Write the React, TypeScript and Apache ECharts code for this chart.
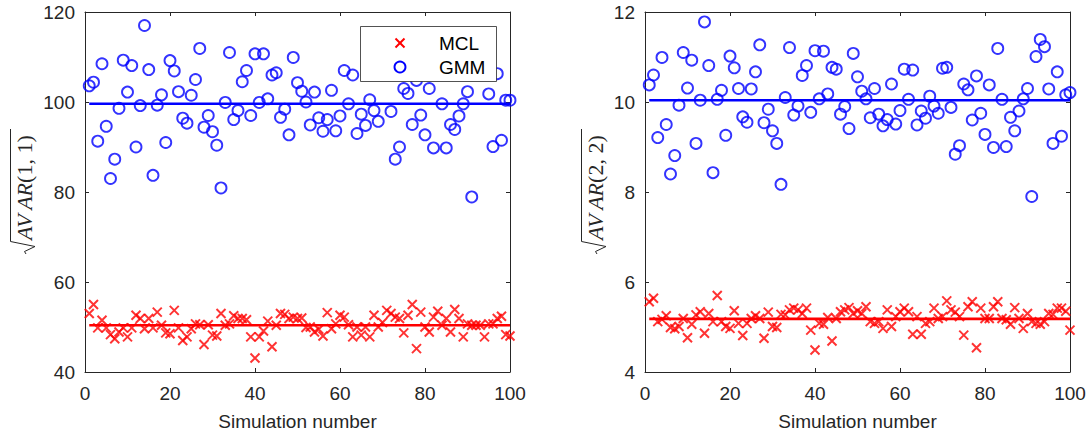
import { useEffect, useRef } from "react";
import * as echarts from "echarts";

// sqrt(AVAR(1,1)) per simulation
const mcl11 = [
  53.0, 55.0, 49.8, 51.5, 49.8, 48.3, 47.4, 48.9, 49.8, 47.8,
  49.8, 52.6, 51.9, 49.6, 51.9, 49.8, 53.3, 50.4, 48.7, 48.5,
  53.7, 49.8, 47.0, 47.8, 49.6, 50.7, 50.5, 46.1, 50.5, 48.2,
  48.0, 53.0, 50.4, 50.7, 52.5, 51.9, 51.9, 51.6, 47.8, 43.1,
  47.8, 49.1, 51.3, 45.6, 50.4, 53.0, 52.8, 51.9, 52.2, 51.9,
  52.0, 49.9, 50.0, 48.9, 49.5, 48.0, 53.2, 49.6, 50.7, 52.6,
  52.2, 50.5, 47.8, 50.0, 48.2, 50.0, 47.8, 52.6, 50.0, 51.0,
  53.7, 53.0, 52.2, 51.9, 48.7, 52.6, 55.0, 45.2, 53.3, 50.0,
  48.9, 52.2, 53.5, 50.4, 51.9, 48.9, 53.9, 51.9, 47.8, 50.7,
  50.4, 50.4, 50.4, 47.8, 50.7, 50.7, 51.9, 52.4, 48.3, 48.0,
];
const gmm11 = [
  103.6, 104.4, 91.3, 108.5, 94.6, 83.0, 87.3, 98.6, 109.3, 102.2,
  108.1, 90.0, 99.2, 117.0, 107.2, 83.7, 99.3, 101.6, 91.0, 109.2,
  106.9, 102.3, 96.4, 95.3, 101.5, 105.0, 111.9, 94.4, 97.0, 93.4,
  90.4, 80.9, 99.9, 111.0, 96.1, 98.1, 104.5, 107.0, 97.0, 110.7,
  99.9, 110.7, 100.7, 106.0, 106.5, 96.6, 98.4, 92.7, 109.9, 104.3,
  102.4, 100.0, 94.9, 102.2, 96.5, 93.5, 96.1, 102.6, 93.6, 96.9,
  107.0, 99.6, 106.0, 93.0, 97.3, 94.8, 100.5, 98.1, 95.7, 107.5,
  107.7, 97.9, 87.3, 90.0, 103.0, 101.9, 95.0, 104.8, 97.1, 92.7,
  103.0, 89.8, 111.9, 99.6, 89.8, 95.0, 93.9, 96.9, 99.6, 102.3,
  78.9, 110.1, 113.9, 112.3, 101.8, 90.1, 106.3, 91.5, 100.4, 100.4,
];
// sqrt(AVAR(2,2)) per simulation
const mcl22 = [
  5.56, 5.64, 5.12, 5.17, 5.25, 4.99, 4.96, 5.01, 5.19, 4.76,
  5.06, 5.27, 5.34, 4.86, 5.30, 5.12, 5.70, 5.12, 5.01, 4.97,
  5.36, 5.08, 4.81, 5.08, 5.19, 5.25, 5.19, 4.75, 5.33, 5.01,
  4.99, 5.28, 5.27, 5.38, 5.42, 5.38, 5.30, 5.42, 4.93, 4.49,
  5.08, 5.06, 5.21, 4.69, 5.19, 5.34, 5.38, 5.43, 5.30, 5.36,
  5.30, 5.45, 5.12, 5.08, 5.12, 4.97, 5.38, 5.01, 5.23, 5.34,
  5.42, 5.34, 4.84, 5.23, 4.84, 5.08, 5.12, 5.42, 5.19, 5.23,
  5.58, 5.38, 5.33, 5.23, 4.82, 5.45, 5.56, 4.54, 5.42, 5.19,
  5.19, 5.45, 5.56, 5.19, 5.16, 5.06, 5.43, 5.19, 4.97, 5.30,
  5.12, 5.08, 5.06, 5.12, 5.30, 5.28, 5.42, 5.42, 5.35, 4.93,
];
const gmm22 = [
  10.38, 10.60, 9.21, 10.99, 9.50, 8.40, 8.81, 9.93, 11.10, 10.31,
  10.93, 9.08, 10.04, 11.78, 10.81, 8.43, 10.06, 10.26, 9.26, 11.02,
  10.76, 10.30, 9.67, 9.55, 10.29, 10.67, 11.27, 9.54, 9.84, 9.36,
  9.08, 8.17, 10.10, 11.21, 9.71, 9.91, 10.59, 10.81, 9.77, 11.14,
  10.07, 11.13, 10.18, 10.77, 10.73, 9.73, 9.90, 9.41, 11.08, 10.56,
  10.24, 10.07, 9.65, 10.30, 9.73, 9.47, 9.61, 10.40, 9.51, 9.81,
  10.73, 10.06, 10.71, 9.49, 9.80, 9.64, 10.13, 9.91, 9.75, 10.75,
  10.77, 9.88, 8.84, 9.03, 10.40, 10.27, 9.60, 10.58, 9.75, 9.28,
  10.38, 8.99, 11.19, 10.06, 9.01, 9.66, 9.36, 9.80, 10.07, 10.30,
  7.90, 11.01, 11.39, 11.23, 10.29, 9.08, 10.67, 9.24, 10.16, 10.21,
];
const mclMean11 = 50.4;
const gmmMean11 = 99.6;
const mclMean22 = 5.18;
const gmmMean22 = 10.04;

const xTicks = { min: 0, max: 100, interval: 20 };
const yTicks11 = { min: 40, max: 120, interval: 20 };
const yTicks22 = { min: 4, max: 12, interval: 2 };
const xName = "Simulation number";
const legendNames = ["MCL", "GMM"];

const AX = "#262626";
const RED = "#ff0000";
const BLUE = "#0000ff";
const FONT = "Liberation Sans";
const CROSS = "path://M0,0L10,10M10,0L0,10";

function pairs(vals: number[]) {
  return vals.map((v, i) => [i + 1, v]);
}

export default function App() {
  const ref = useRef<HTMLDivElement>(null);
  useEffect(() => {
    if (!ref.current) return;
    const chart = echarts.init(ref.current, null, { renderer: "svg" });
    const grids = [
      { left: 85, top: 12, width: 425, height: 360 },
      { left: 645, top: 12, width: 425, height: 360 },
    ];
    const tick = { show: true, inside: true, length: 4, lineStyle: { color: AX, width: 1 } };
    const line = { show: true, onZero: false, lineStyle: { color: AX, width: 1 } };
    const xAxes: any[] = [];
    const yAxes: any[] = [];
    [0, 1].forEach((g) => {
      xAxes.push({
        type: "value", gridIndex: g, position: "bottom", ...xTicks,
        axisLine: line, axisTick: tick, splitLine: { show: false },
        axisLabel: { color: AX, fontSize: 19, fontFamily: FONT, margin: 12 },
        name: xName, nameLocation: "middle", nameGap: 40,
        nameTextStyle: { color: AX, fontSize: 19, fontFamily: FONT },
      });
      xAxes.push({
        type: "value", gridIndex: g, position: "top", ...xTicks,
        axisLine: line, axisTick: tick, splitLine: { show: false },
        axisLabel: { show: false },
      });
      const yt = g === 0 ? yTicks11 : yTicks22;
      yAxes.push({
        type: "value", gridIndex: g, position: "left", ...yt,
        axisLine: line, axisTick: tick, splitLine: { show: false },
        axisLabel: { color: AX, fontSize: 19, fontFamily: FONT, margin: 10 },
      });
      yAxes.push({
        type: "value", gridIndex: g, position: "right", ...yt,
        axisLine: line, axisTick: tick, splitLine: { show: false },
        axisLabel: { show: false },
      });
    });

    const mkSeries = (g: number, mcl: number[], gmm: number[], mm: number, gm: number) => [
      {
        name: "MCL", type: "scatter", xAxisIndex: g * 2, yAxisIndex: g * 2,
        data: pairs(mcl), symbol: CROSS, symbolSize: 9,
        itemStyle: { color: RED, borderColor: RED, borderWidth: 2 },
        z: 2,
      },
      {
        name: "GMM", type: "scatter", xAxisIndex: g * 2, yAxisIndex: g * 2,
        data: pairs(gmm), symbol: "circle", symbolSize: 11,
        itemStyle: { color: "rgba(0,0,0,0)", borderColor: BLUE, borderWidth: 1.9 },
        z: 2,
      },
      {
        type: "line", xAxisIndex: g * 2, yAxisIndex: g * 2,
        data: [[1, mm], [100, mm]], symbol: "none",
        lineStyle: { color: RED, width: 2.6 }, z: 3,
      },
      {
        type: "line", xAxisIndex: g * 2, yAxisIndex: g * 2,
        data: [[1, gm], [100, gm]], symbol: "none",
        lineStyle: { color: BLUE, width: 2.6 }, z: 3,
      },
    ];

    const yLabel = (x: number, y: number, arg: string) => ({
      type: "group", x, y, rotation: Math.PI / 2,
      children: [
        {
          type: "polyline",
          shape: { points: [[0, 2], [2.5, 0.5], [7.5, 11], [12.5, -13.5], [125, -13.5]] },
          style: { stroke: AX, lineWidth: 1, fill: "none" },
        },
        {
          type: "text", x: 14, y: 0,
          style: {
            text: "{i|AV\u2009AR}{n|" + arg + "}",
            verticalAlign: "middle", align: "left", fill: AX,
            rich: {
              i: { fontFamily: "Liberation Serif", fontStyle: "italic", fontSize: 22, fill: AX },
              n: { fontFamily: "Liberation Serif", fontSize: 22, fill: AX },
            },
          },
        },
      ],
    });

    const lx = 360.5, ly = 26.5;
    const legend = {
      type: "group",
      children: [
        { type: "rect", shape: { x: lx, y: ly, width: 136, height: 55 }, style: { fill: "#fff", stroke: AX, lineWidth: 0.8 }, z: 10 },
        { type: "line", shape: { x1: 395.5, y1: 38.5, x2: 404.5, y2: 47.5 }, style: { stroke: RED, lineWidth: 2 }, z: 11 },
        { type: "line", shape: { x1: 404.5, y1: 38.5, x2: 395.5, y2: 47.5 }, style: { stroke: RED, lineWidth: 2 }, z: 11 },
        { type: "circle", shape: { cx: 400, cy: 67, r: 5.5 }, style: { fill: "none", stroke: BLUE, lineWidth: 1.9 }, z: 11 },
        { type: "text", x: 439, y: 43, style: { text: legendNames[0], fontSize: 19, fontFamily: FONT, fill: "#000", verticalAlign: "middle" }, z: 11 },
        { type: "text", x: 439, y: 67, style: { text: legendNames[1], fontSize: 19, fontFamily: FONT, fill: "#000", verticalAlign: "middle" }, z: 11 },
      ],
    };

    chart.setOption({
      animation: false,
      backgroundColor: "#fff",
      grid: grids,
      xAxis: xAxes,
      yAxis: yAxes,
      series: [
        ...mkSeries(0, mcl11, gmm11, mclMean11, gmmMean11),
        ...mkSeries(1, mcl22, gmm22, mclMean22, gmmMean22),
      ],
      graphic: [yLabel(24, 254, "(1, 1)"), yLabel(595, 254, "(2, 2)"), legend],
    });
    return () => chart.dispose();
  }, []);
  return (
    <div
      ref={ref}
      style={{ position: "fixed", left: 0, top: 0, width: 1090, height: 441, background: "#fff" }}
    />
  );
}
